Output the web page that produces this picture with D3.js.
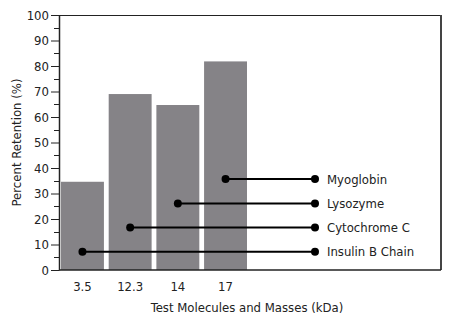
<!DOCTYPE html>
<html>
<head>
<meta charset="utf-8">
<script src="https://cdn.jsdelivr.net/npm/d3@7"></script>
<style>
  body { margin: 0; background: #fff; }
  svg text { font-family: "Liberation Sans Narrow", "DejaVu Sans Condensed", sans-serif; fill: #222; }
</style>
</head>
<body>
<svg id="chart" width="450" height="325"></svg>
<script>
// chart data
var masses = ["3.5", "12.3", "14", "17"];
var retention = [34.6, 69, 64.7, 81.8];
var molecules = ["Insulin B Chain", "Cytochrome C", "Lysozyme", "Myoglobin"];
var markerLevels = [7.2, 16.7, 26.1, 35.7];
var yTicks = [0, 10, 20, 30, 40, 50, 60, 70, 80, 90, 100];

var svg = d3.select("#chart");
var margin = { top: 15, right: 9, bottom: 55, left: 59 },
    width = 450 - margin.left - margin.right,
    height = 325 - margin.top - margin.bottom;

var g = svg.append("g").attr("transform", "translate(" + margin.left + "," + margin.top + ")");

var x = d3.scaleBand()
    .domain(masses)
    .range([2, 188])
    .paddingInner(0.1)
    .paddingOuter(0);

var y = d3.scaleLinear()
    .domain([0, 100])
    .range([height, 0]);

// bars
g.selectAll("rect.bar")
    .data(retention)
    .enter().append("rect")
    .attr("class", "bar")
    .attr("x", function (d, i) { return x(masses[i]); })
    .attr("y", function (d) { return y(d); })
    .attr("width", x.bandwidth())
    .attr("height", function (d) { return height - y(d); })
    .attr("fill", "#858387");

// frame: top and right
g.append("path")
    .attr("d", "M0,0.5H" + (width - 0.5) + "V" + height)
    .attr("fill", "none")
    .attr("stroke", "#222")
    .attr("stroke-width", 1);
g.append("line")
    .attr("x1", width).attr("x2", width)
    .attr("y1", 0).attr("y2", height)
    .attr("stroke", "#444").attr("stroke-width", 2);

// y axis with minor ticks
var yMinor = d3.range(5, 100, 10);
g.selectAll("line.minor")
    .data(yMinor)
    .enter().append("line")
    .attr("x1", -5).attr("x2", 0)
    .attr("y1", function (d) { return Math.round(y(d)) + 0.5; })
    .attr("y2", function (d) { return Math.round(y(d)) + 0.5; })
    .attr("stroke", "#222");

var yAxis = g.append("g")
    .call(d3.axisLeft(y).tickValues(yTicks).tickSize(8).tickPadding(2).tickSizeOuter(0));
yAxis.select(".domain").attr("stroke", "#222").attr("stroke-width", 1.5);
yAxis.selectAll(".tick line").attr("stroke", "#222");
yAxis.selectAll("text").style("font-size", "13px");

// x axis baseline and labels
g.append("line")
    .attr("x1", 0).attr("x2", width)
    .attr("y1", height).attr("y2", height)
    .attr("stroke", "#222").attr("stroke-width", 1.5);

g.selectAll("text.xlab")
    .data(masses)
    .enter().append("text")
    .attr("class", "xlab")
    .attr("x", function (d) { return x(d) + x.bandwidth() / 2; })
    .attr("y", height + 21)
    .attr("text-anchor", "middle")
    .style("font-size", "13px")
    .text(function (d) { return d; });

// molecule callouts
var labelX = 256;
var callouts = g.selectAll("g.callout")
    .data(molecules)
    .enter().append("g")
    .attr("class", "callout");

callouts.append("line")
    .attr("x1", function (d, i) { return x(masses[i]) + x.bandwidth() / 2; })
    .attr("x2", labelX)
    .attr("y1", function (d, i) { return y(markerLevels[i]); })
    .attr("y2", function (d, i) { return y(markerLevels[i]); })
    .attr("stroke", "#000").attr("stroke-width", 2);

callouts.append("circle")
    .attr("cx", function (d, i) { return x(masses[i]) + x.bandwidth() / 2; })
    .attr("cy", function (d, i) { return y(markerLevels[i]); })
    .attr("r", 4)
    .attr("fill", "#000");

callouts.append("circle")
    .attr("cx", labelX)
    .attr("cy", function (d, i) { return y(markerLevels[i]); })
    .attr("r", 4)
    .attr("fill", "#000");

callouts.append("text")
    .attr("x", labelX + 12)
    .attr("y", function (d, i) { return y(markerLevels[i]); })
    .attr("dy", "0.35em")
    .style("font-size", "13px")
    .text(function (d) { return d; });

// axis titles
svg.append("text")
    .attr("x", 247)
    .attr("y", 312)
    .attr("text-anchor", "middle")
    .style("font-size", "13px")
    .text("Test Molecules and Masses (kDa)");

svg.append("text")
    .attr("transform", "translate(21," + (margin.top + height / 2) + ") rotate(-90)")
    .attr("text-anchor", "middle")
    .style("font-size", "13px")
    .text("Percent Retention (%)");
</script>
</body>
</html>
